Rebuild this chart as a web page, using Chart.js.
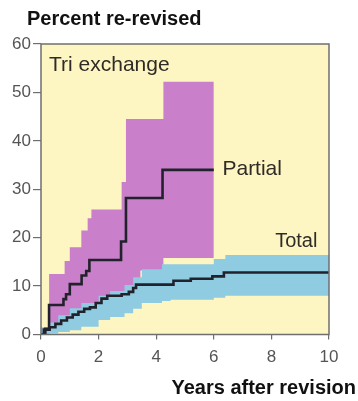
<!DOCTYPE html>
<html>
<head>
<meta charset="utf-8">
<script src="https://cdn.jsdelivr.net/npm/chart.js@4.4.1/dist/chart.umd.min.js"></script>
<style>
  html, body { margin: 0; padding: 0; background: #ffffff; }
  #wrap { width: 358px; height: 401px; }
</style>
</head>
<body>
<div id="wrap"><canvas id="chart" width="358" height="401"></canvas></div>
<script>
// Axis ticks
const xTicks = [0, 2, 4, 6, 8, 10];
const yTicks = [0, 10, 20, 30, 40, 50, 60];

// Partial re-revision: cumulative percent (step starts at each x)
const partialX = [0, 0.15, 0.28, 0.78, 0.87, 1.0, 1.41, 1.57, 1.68, 2.78, 2.95, 4.22, 6.0];
const partialY = [0, 1.2, 6.1, 7.3, 8.3, 10.4, 12.2, 13.1, 15.4, 19.2, 28.2, 34.0, 34.0];

// Partial confidence band
const partialBandX = [0.28, 0.82, 0.9, 1.0, 1.1, 1.4, 1.62, 1.75, 2.0, 2.8, 2.95, 3.0, 3.45, 4.25, 6.0];
const partialUpper = [12.5, 15.2, 15.2, 18.0, 18.0, 21.5, 24.0, 25.8, 25.8, 31.5, 44.5, 44.5, 44.5, 52.2, 52.2];
const partialLower = [0.5, 0.5, 1.5, 1.5, 2.2, 3.5, 3.5, 3.5, 5.0, 5.0, 5.0, 9.0, 13.2, 15.8, 15.8];

// Total re-revision: cumulative percent
const totalX = [0, 0.1, 0.3, 0.5, 0.7, 0.9, 1.1, 1.3, 1.5, 1.7, 1.9, 2.1, 2.3, 2.8, 3.05, 3.2, 3.3, 4.6, 5.2, 5.95, 6.35, 10];
const totalY = [0, 1.0, 1.5, 2.2, 2.9, 3.5, 4.1, 4.7, 5.3, 5.6, 6.5, 7.4, 8.0, 8.3, 8.8, 9.6, 10.3, 11.1, 11.5, 12.0, 12.8, 12.8];

// Total confidence band
const totalBandX = [0, 0.3, 0.6, 1.0, 1.4, 2.0, 2.4, 2.9, 3.2, 3.5, 4.2, 4.5, 6.0, 6.4, 10];
const totalUpper = [1.5, 2.5, 4.0, 5.4, 6.5, 8.0, 9.0, 10.2, 11.8, 13.5, 14.5, 14.5, 15.6, 16.4, 16.4];
const totalLower = [0, 0.2, 0.5, 0.9, 1.6, 3.0, 3.6, 4.4, 5.3, 6.5, 6.9, 7.2, 7.6, 8.0, 8.0];

// Text
const yTitle = 'Percent re-revised';
const xTitle = 'Years after revision';
const panelName = 'Tri exchange';
const seriesNames = ['Partial', 'Total'];

const COLORS = {
  panel: '#fdf5c2',
  frame: '#6f6f6f',
  partialBand: '#c97fca',
  totalBand: '#8fcbe1',
  line: '#22222c',
  tick: '#555555',
  text: '#2f2b27'
};
const FONT = '"Liberation Sans", Arial, Helvetica, sans-serif';

function pts(xs, ys) { return xs.map((x, i) => ({ x: x, y: ys[i] })); }

const bandStyle = { pointRadius: 0, borderWidth: 0, stepped: true, tension: 0 };

const decor = {
  id: 'decor',
  beforeDatasetsDraw(chart) {
    const { ctx, chartArea: a } = chart;
    ctx.save();
    ctx.fillStyle = COLORS.panel;
    ctx.fillRect(a.left, a.top, a.right - a.left, a.bottom - a.top);
    ctx.restore();
  },
  afterDatasetsDraw(chart) {
    const { ctx, chartArea: a, scales } = chart;
    ctx.save();
    ctx.strokeStyle = COLORS.frame;
    ctx.lineWidth = 1.5;
    ctx.strokeRect(a.left, a.top, a.right - a.left, a.bottom - a.top);

    ctx.fillStyle = COLORS.text;
    ctx.font = '21px ' + FONT;
    ctx.textAlign = 'left';
    ctx.textBaseline = 'alphabetic';
    ctx.fillText(panelName, a.left + 8, a.top + 27);

    ctx.font = '21px ' + FONT;
    ctx.textBaseline = 'middle';
    ctx.fillText(seriesNames[0], scales.x.getPixelForValue(6.3), scales.y.getPixelForValue(34) - 1);
    ctx.font = '20px ' + FONT;
    ctx.fillText(seriesNames[1], scales.x.getPixelForValue(8.13), scales.y.getPixelForValue(19.2));

    ctx.fillStyle = '#111111';
    ctx.font = 'bold 20px ' + FONT;
    ctx.textBaseline = 'alphabetic';
    ctx.textAlign = 'left';
    ctx.fillText(yTitle, 27, 25);
    ctx.textAlign = 'right';
    ctx.fillText(xTitle, 356, 394);
    ctx.restore();
  }
};

new Chart(document.getElementById('chart'), {
  type: 'line',
  data: {
    datasets: [
      { label: 'Partial', data: pts(partialX, partialY), borderColor: COLORS.line, borderWidth: 2.6,
        pointRadius: 0, stepped: true, fill: false, order: 0 },
      { label: 'Total', data: pts(totalX, totalY), borderColor: COLORS.line, borderWidth: 2.6,
        pointRadius: 0, stepped: true, fill: false, order: 0 },
      Object.assign({ label: 'Total upper', data: pts(totalBandX, totalUpper),
        backgroundColor: COLORS.totalBand, fill: '+1', order: 1 }, bandStyle),
      Object.assign({ label: 'Total lower', data: pts(totalBandX, totalLower), fill: false, order: 1 }, bandStyle),
      Object.assign({ label: 'Partial upper', data: pts(partialBandX, partialUpper),
        backgroundColor: COLORS.partialBand, fill: '+1', order: 2 }, bandStyle),
      Object.assign({ label: 'Partial lower', data: pts(partialBandX, partialLower), fill: false, order: 2 }, bandStyle)
    ]
  },
  options: {
    responsive: false,
    animation: false,
    layout: { padding: { top: 44, right: 29, left: 0, bottom: 0 } },
    plugins: { legend: { display: false }, tooltip: { enabled: false }, title: { display: false } },
    scales: {
      x: {
        type: 'linear', min: 0, max: 10,
        afterBuildTicks: s => { s.ticks = xTicks.map(v => ({ value: v })); },
        afterFit: s => { s.height = 66.5; },
        ticks: { color: COLORS.tick, font: { size: 17, family: FONT }, padding: 8, maxRotation: 0 },
        grid: { drawOnChartArea: false, drawTicks: true, tickLength: 5, color: COLORS.frame, lineWidth: 1.2 },
        border: { display: false }
      },
      y: {
        type: 'linear', min: 0, max: 60,
        afterBuildTicks: s => { s.ticks = yTicks.map(v => ({ value: v })); },
        afterFit: s => { s.width = 41; },
        ticks: { color: COLORS.tick, font: { size: 17, family: FONT }, padding: 2 },
        grid: { drawOnChartArea: false, drawTicks: true, tickLength: 8, color: COLORS.frame, lineWidth: 1.2 },
        border: { display: false }
      }
    }
  },
  plugins: [decor]
});
</script>
</body>
</html>
